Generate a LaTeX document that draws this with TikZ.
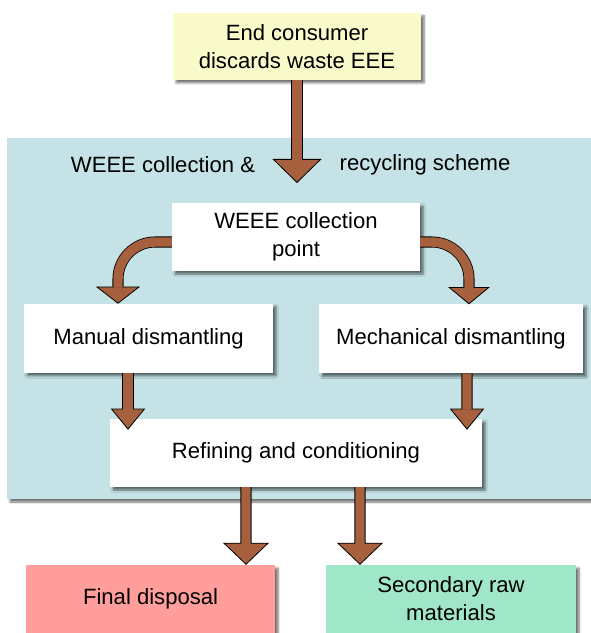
\documentclass[tikz,border=0pt]{standalone}
\usepackage{fontspec}
\setmainfont{Liberation Sans}
\usetikzlibrary{positioning}
\usetikzlibrary{calc,arrows.meta,shadows.blur}

\definecolor{schemeblue}{RGB}{197,227,230}
\definecolor{consumeryellow}{RGB}{248,250,202}
\definecolor{arrowbrown}{RGB}{166,96,62}
\definecolor{disposalred}{RGB}{255,158,154}
\definecolor{rawgreen}{RGB}{160,230,200}

\tikzset{
  softshadow/.style={blur shadow={shadow xshift=3pt, shadow yshift=-3pt, shadow blur steps=6, shadow opacity=55}},
  stage/.style={fill=white, softshadow, inner sep=0pt, align=center,
    minimum width=8.7cm, minimum height=2.38cm,
    font=\fontsize{22}{28}\selectfont},
  label/.style={font=\fontsize{22}{28}\selectfont},
  flow/.style 2 args={line width=11pt, draw=black,
    -{Triangle[length=#1, width=#2, line width=0.8pt, fill=arrowbrown]},
    postaction={draw=arrowbrown, line width=9.4pt, -, shorten >=#1-1pt}}
}

\begin{document}
\begin{tikzpicture}
\useasboundingbox (0,0) rectangle (20.685,22.155);

% recycling scheme area
\fill[schemeblue, softshadow] (0.245,4.69) rectangle (20.8,17.325);

\node[stage, fill=consumeryellow, minimum width=8.68cm, minimum height=2.345cm] (consumer) at (10.395,20.53) {End consumer\\discards waste EEE};

\node[label] (scheme1) at (5.705,16.38) {WEEE collection \&};
\node[label] (scheme2) at (14.875,16.38) {recycling scheme};

\node[stage, minimum width=8.68cm] (point) at (10.36,13.86) {WEEE collection\\point};
\node[stage, minimum width=8.715cm, minimum height=2.415cm] (manual) at (5.2,10.31) {Manual dismantling};
\node[stage, minimum width=9.24cm, minimum height=2.415cm] (mech) at (15.785,10.29) {Mechanical dismantling};
\node[stage, minimum width=13.02cm] (refining) at (10.36,6.3) {Refining and conditioning};

\node[stage, fill=disposalred, minimum width=8.715cm] (final) at (5.27,1.19) {Final disposal};
\node[stage, fill=rawgreen, minimum width=8.75cm] (raw) at (15.785,1.19) {Secondary raw\\materials};

% arrows
\coordinate (entry) at (10.395,15.75);
\draw[flow={0.84cm}{1.715cm}] (consumer.south) -- (entry);

\draw[flow={0.6cm}{1.55cm}, rounded corners=1.3cm] ([yshift=-0.175cm]point.west) -| ([xshift=-1.07cm]manual.north);
\draw[flow={0.6cm}{1.45cm}, rounded corners=1.3cm] ([yshift=-0.175cm]point.east) -| ([xshift=0.63cm]mech.north);

\draw[flow={0.74cm}{1.2cm}] ([xshift=-0.72cm]manual.south) -- ($(manual.south |- refining.north)+(-0.72,-0.385)$);
\draw[flow={0.74cm}{1.2cm}] ([xshift=0.56cm]mech.south) -- ($(mech.south |- refining.north)+(0.56,-0.385)$);

\draw[flow={0.77cm}{1.61cm}] ([xshift=-1.75cm]refining.south) -- ($(refining.south |- final.north)+(-1.75,0)$);
\draw[flow={0.77cm}{1.61cm}] ([xshift=2.24cm]refining.south) -- ($(refining.south |- raw.north)+(2.24,0)$);

\end{tikzpicture}
\end{document}
